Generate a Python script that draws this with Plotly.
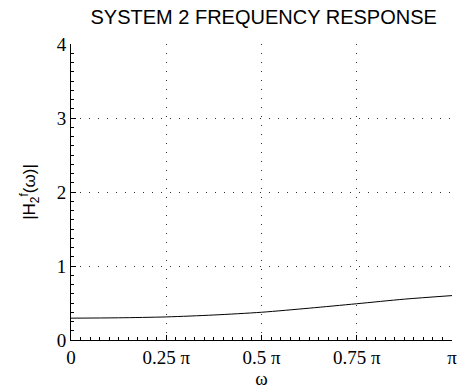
import plotly.graph_objects as go

# omega in units of pi
omega_over_pi = [0.0, 0.125, 0.25, 0.375, 0.5, 0.625, 0.75, 0.875, 1.0]
magnitude = [0.295, 0.300, 0.312, 0.338, 0.375, 0.430, 0.490, 0.552, 0.600]

x_tickvals = [0, 0.25, 0.5, 0.75, 1.0]
x_ticktext = ["0", "0.25 π", "0.5 π", "0.75 π", "π"]
y_tickvals = [0, 1, 2, 3, 4]

fig = go.Figure()
fig.add_trace(go.Scatter(
    x=omega_over_pi, y=magnitude, mode="lines",
    line=dict(color="black", width=1, shape="spline", smoothing=0.8),
    showlegend=False, hoverinfo="skip",
))

serif = "Liberation Serif, Times New Roman, serif"
sans = "Liberation Sans, Arial, sans-serif"

fig.update_layout(
    width=461, height=391,
    margin=dict(l=71, r=4, t=44, b=51),
    paper_bgcolor="white", plot_bgcolor="white",
    title=dict(text="SYSTEM 2 FREQUENCY RESPONSE", x=0.572, xanchor="center",
               y=0.956, yanchor="middle",
               font=dict(family=sans, size=20, color="black")),
    font=dict(family=serif, size=19, color="black"),
)

fig.update_xaxes(
    range=[0, 1], tickvals=x_tickvals, ticktext=x_ticktext,
    showline=True, linecolor="black", linewidth=1, mirror=False,
    ticks="inside", ticklen=5, tickcolor="black",
    minor=dict(dtick=0.025, ticks="inside", ticklen=3, tickcolor="black", showgrid=False),
    showgrid=True, gridcolor="#333333", griddash="1px,8px", gridwidth=1,
    zeroline=False, ticklabeloverflow="allow",
    tickfont=dict(family=serif, size=19, color="black"),
    title=dict(text="ω", font=dict(family=serif, size=19, color="black"), standoff=2),
)
fig.update_yaxes(
    range=[0, 4], tickvals=y_tickvals,
    showline=True, linecolor="black", linewidth=1, mirror=False,
    ticks="inside", ticklen=5, tickcolor="black",
    minor=dict(dtick=0.125, ticks="inside", ticklen=3, tickcolor="black", showgrid=False),
    showgrid=True, gridcolor="#333333", griddash="1px,8px", gridwidth=1,
    zeroline=False,
    tickfont=dict(family=serif, size=19, color="black"),
    title=dict(text="|H<sub>2</sub><sup>f</sup>(ω)|",
               font=dict(family=sans, size=17, color="black"),
               standoff=16),
)

fig.write_html(
    "out.html",
    config={"displayModeBar": False, "staticPlot": True},
    post_script="document.body.style.margin='0';document.body.style.overflow='hidden';",
)
